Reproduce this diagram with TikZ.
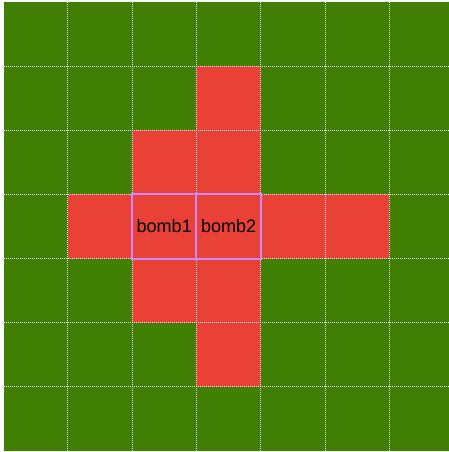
\documentclass[tikz,border=0pt]{standalone}
\usepackage{fontspec}
\setmainfont{Liberation Sans}
\definecolor{grass}{RGB}{64,127,4}
\definecolor{blast}{RGB}{234,65,54}
\definecolor{bombline}{RGB}{204,136,255}
\definecolor{gridline}{RGB}{225,235,245}
\tikzset{
  cellfill/.style={fill=blast, draw=none},
  gridstyle/.style={draw=gridline, line width=1pt, dash pattern=on 1pt off 1pt},
  bombcell/.style={draw=bombline, line width=2pt, minimum width=64.3pt, minimum height=64.15pt, inner sep=0pt, font=\fontsize{18pt}{21pt}\selectfont, text=black},
}
\begin{document}
\begin{tikzpicture}[x=1pt,y=-1pt]
\def\cw{64.3}
\def\ch{64.15}
\def\xo{3.5}
\def\yo{2}
\useasboundingbox (0,0) rectangle (449,452);
\fill[white] (0,0) rectangle (449,452);
\fill[grass] (\xo,\yo) rectangle (449,451);
% red cells (col,row)
\foreach \c/\r in {3/1, 2/2, 3/2, 1/3, 2/3, 3/3, 4/3, 5/3, 2/4, 3/4, 3/5}{
  \fill[cellfill] ({\xo+\c*\cw},{\yo+\r*\ch}) rectangle ({\xo+(\c+1)*\cw},{\yo+(\r+1)*\ch});
}
% grid lines
\foreach \i in {0,...,6}{
  \draw[gridstyle] ({\xo+\i*\cw},\yo) -- ({\xo+\i*\cw},451);
}
\foreach \j in {0,...,7}{
  \draw[gridstyle] (\xo,{\yo+\j*\ch}) -- (449,{\yo+\j*\ch});
}
% bombs
\node[bombcell] (bomb1) at ({\xo+2.5*\cw},{\yo+3.5*\ch}) {bomb1};
\node[bombcell] (bomb2) at ({\xo+3.5*\cw},{\yo+3.5*\ch}) {bomb2};
\end{tikzpicture}
\end{document}
